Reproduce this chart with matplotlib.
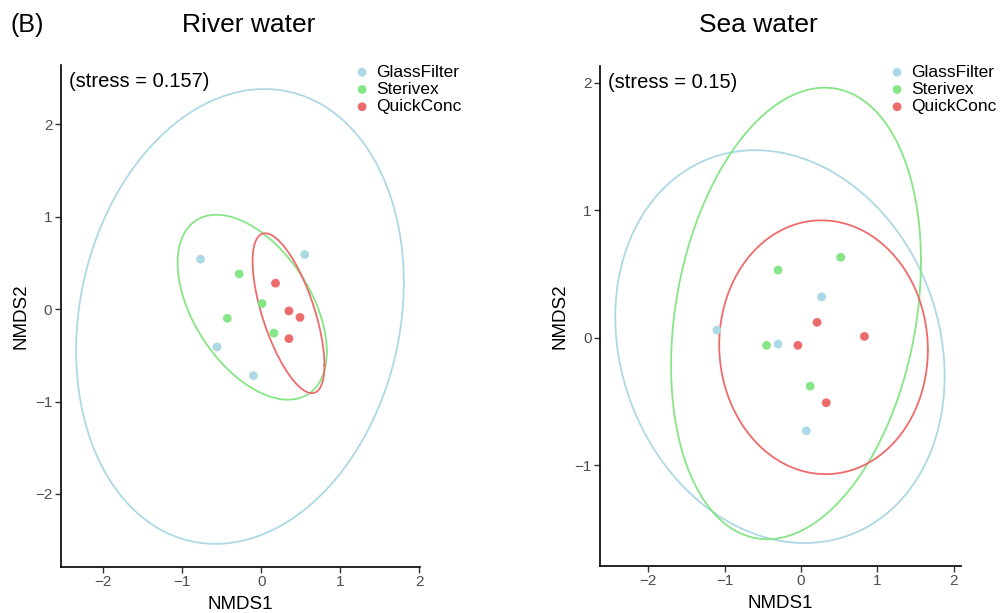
import numpy as np
import matplotlib.pyplot as plt

plt.rcParams['font.family'] = ['Liberation Sans', 'DejaVu Sans']

# group names and colours
groups = ['GlassFilter', 'Sterivex', 'QuickConc']
colors = ['#ADD8E6', '#86E586', '#EE6B6B']

# River water NMDS scores
river_x = [[-0.77, 0.55, -0.56, -0.10],
           [-0.28, 0.01, -0.43, 0.16],
           [0.18, 0.35, 0.49, 0.35]]
river_y = [[0.54, 0.59, -0.41, -0.72],
           [0.38, 0.06, -0.10, -0.26],
           [0.28, -0.02, -0.09, -0.32]]
# ellipses: centre x, centre y, half range x, half range y, correlation
river_ell = [[-0.27, -0.08, 2.075, 2.46, 0.15],
             [-0.115, 0.02, 0.945, 1.00, -0.48],
             [0.345, -0.045, 0.455, 0.865, -0.65]]

# Sea water NMDS scores
sea_x = [[0.27, -1.10, -0.30, 0.07],
         [0.52, -0.30, -0.45, 0.12],
         [0.21, 0.83, -0.04, 0.33]]
sea_y = [[0.32, 0.06, -0.05, -0.73],
         [0.63, 0.53, -0.06, -0.38],
         [0.12, 0.01, -0.06, -0.51]]
sea_ell = [[-0.275, -0.07, 2.155, 1.54, -0.15],
           [-0.065, 0.19, 1.635, 1.77, 0.23],
           [0.295, -0.075, 1.365, 0.995, -0.02]]


def ellipse_xy(cx, cy, hx, hy, r, n=300):
    t = np.linspace(0, 2 * np.pi, n)
    x = cx + hx * np.cos(t)
    y = cy + hy * (r * np.cos(t) + np.sqrt(1 - r * r) * np.sin(t))
    return x, y


def panel(ax, xs, ys, ells, stress, xlim, ylim, yticks):
    for i in range(3):
        ex, ey = ellipse_xy(*ells[i])
        ax.plot(ex, ey, c=colors[i], lw=1.3, zorder=2)
    for i in range(3):
        ax.scatter(xs[i], ys[i], s=40, c=colors[i], edgecolors='none',
                   label=groups[i], zorder=3)
    ax.set_xlim(*xlim)
    ax.set_ylim(*ylim)
    ax.set_xticks([-2, -1, 0, 1, 2])
    ax.set_yticks(yticks)
    for s in ['top', 'right']:
        ax.spines[s].set_visible(False)
    for s in ['left', 'bottom']:
        ax.spines[s].set_linewidth(1.2)
    ax.tick_params(length=4, width=1, color='#333333', labelsize=11,
                   labelcolor='#4D4D4D', pad=2)
    ax.set_xlabel('NMDS1', fontsize=13.5, labelpad=4.5)
    ax.set_ylabel('NMDS2', fontsize=13.5, labelpad=4)
    ax.text(0.022, 0.968, '(stress = %s)' % stress, transform=ax.transAxes,
            fontsize=14.5, va='center', ha='left')


W, H = 1001, 613
fig = plt.figure(figsize=(W / 100, H / 100), dpi=100)

ax1 = fig.add_axes([60.7 / W, (H - 567) / H, 359.3 / W, 502 / H])
panel(ax1, river_x, river_y, river_ell, '0.157',
      (-2.54, 2.01), (-2.79, 2.64), [-2, -1, 0, 1, 2])

ax2 = fig.add_axes([600 / W, (H - 566) / H, 360.7 / W, 500 / H])
panel(ax2, sea_x, sea_y, sea_ell, '0.15',
      (-2.63, 2.09), (-1.79, 2.13), [-1, 0, 1, 2])

for ax, lx in [(ax1, 343), (ax2, 878)]:
    ax.legend(loc='upper left', bbox_to_anchor=(lx / W, (H - 56) / H),
              bbox_transform=fig.transFigure, frameon=False, fontsize=12.5,
              handletextpad=0.2, labelspacing=0.12, borderpad=0,
              handlelength=1.2, markerscale=1.0)

fig.text(249 / W, 1 - 25 / H, 'River water', fontsize=19, ha='center', va='center')
fig.text(758 / W, 1 - 25 / H, 'Sea water', fontsize=19, ha='center', va='center')
fig.text(10 / W, 1 - 25 / H, '(B)', fontsize=18, ha='left', va='center')

plt.savefig('out.png', dpi=100)
